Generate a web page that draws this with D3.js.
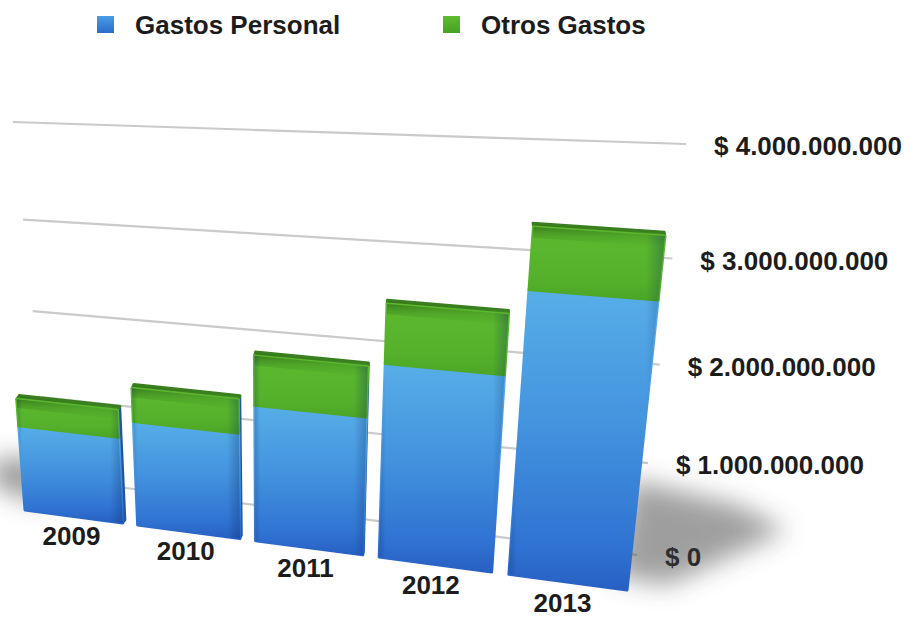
<!DOCTYPE html>
<html>
<head>
<meta charset="utf-8">
<script src="https://cdn.jsdelivr.net/npm/d3@7"></script>
<style>
  html, body { margin: 0; padding: 0; background: #ffffff; }
  svg { display: block; }
  text { font-family: "Liberation Sans", Arial, Helvetica, sans-serif; font-weight: bold; fill: #1c1c1c; }
</style>
</head>
<body>
<svg id="chart" width="910" height="617"></svg>
<script>
// ---- data ----
const years = ["2009", "2010", "2011", "2012", "2013"];
const gastosPersonal = [950e6, 1140e6, 1450e6, 2000e6, 2810e6];
const otrosGastos = [290e6, 350e6, 500e6, 570e6, 560e6];
const seriesNames = ["Gastos Personal", "Otros Gastos"];
const tickValues = [0, 1e9, 2e9, 3e9, 4e9];

// Spanish-style currency formatting: "$ 4.000.000.000"
const esLocale = d3.formatLocale({ decimal: ",", thousands: ".", grouping: [3], currency: ["$ ", ""] });
const fmt = esLocale.format("$,.0f");

// Maps the unit square (u, v) onto a screen quadrilateral (perspective plane).
// Corner order: (0,0), (1,0), (1,1), (0,1).
function quadMap(p0, p1, p2, p3) {
  const [x0, y0] = p0, [x1, y1] = p1, [x2, y2] = p2, [x3, y3] = p3;
  const dx1 = x1 - x2, dy1 = y1 - y2, dx2 = x3 - x2, dy2 = y3 - y2;
  const dx3 = x0 - x1 + x2 - x3, dy3 = y0 - y1 + y2 - y3;
  const den = dx1 * dy2 - dx2 * dy1;
  const g = (dx3 * dy2 - dx2 * dy3) / den;
  const h = (dx1 * dy3 - dx3 * dy1) / den;
  const a = x1 - x0 + g * x1, b = x3 - x0 + h * x3, c = x0;
  const d = y1 - y0 + g * y1, e = y3 - y0 + h * y3, f = y0;
  return (u, v) => {
    const w = g * u + h * v + 1;
    return [(a * u + b * v + c) / w, (d * u + e * v + f) / w];
  };
}

const svg = d3.select("#chart");
const defs = svg.append("defs");

// scales into the unit square
const x = d3.scaleBand().domain(years).range([0, 1]).paddingInner(0.13).paddingOuter(0);
const y = d3.scaleLinear().domain([0, 4e9]).range([0, 1]);

// back wall plane (gridlines) and the plane of the bar fronts
const wall = quadMap([50, 478], [637, 555], [686, 144], [13, 122]);
const front = quadMap([25, 510], [627, 590], [673, 161], [-4, 124]);

// ---- gradients ----
function grad(id, dir, stops) {
  const gr = defs.append("linearGradient").attr("id", id)
    .attr("x1", 0).attr("y1", 0).attr("x2", dir === "h" ? 1 : 0).attr("y2", dir === "h" ? 0 : 1);
  stops.forEach(([o, c, op]) => gr.append("stop").attr("offset", o).attr("stop-color", c).attr("stop-opacity", op == null ? 1 : op));
}
grad("gBlue", "v", [[0, "#57aee7"], [0.45, "#4393de"], [0.85, "#3073d2"], [1, "#2760c2"]]);
grad("gGreen", "v", [[0, "#5cb92e"], [0.7, "#55b12b"], [1, "#4ca626"]]);
grad("gTop", "v", [[0, "#356f1a"], [1, "#428f25"]]);
grad("gRim", "v", [[0, "#2f6a17", 0.7], [0.5, "#3b8420", 0.3], [1, "#3b8420", 0]]);
grad("gEdge", "h", [[0, "#0a2a60", 0.25], [0.05, "#0a2a60", 0.0], [0.88, "#0a2a60", 0.0], [1, "#0a2a60", 0.32]]);
grad("gLegBlue", "v", [[0, "#4a9de2"], [1, "#2c6bcc"]]);
grad("gLegGreen", "v", [[0, "#5fbc30"], [1, "#45a024"]]);

const blur = defs.append("filter").attr("id", "soft").attr("x", "-50%").attr("y", "-50%").attr("width", "200%").attr("height", "200%");
blur.append("feGaussianBlur").attr("stdDeviation", 13);
const blurLine = defs.append("filter").attr("id", "softLine");
blurLine.append("feGaussianBlur").attr("stdDeviation", 0.6);

const line = d3.line();

// ---- gridlines on the back wall ----
svg.append("g").selectAll("path").data(tickValues).join("path")
  .attr("d", t => line([wall(0, y(t)), wall(1, y(t))]))
  .attr("stroke", "#cacaca").attr("stroke-width", 2.2).attr("fill", "none")
  .attr("filter", "url(#softLine)");

// right-hand value labels
svg.append("g").selectAll("text").data(tickValues).join("text")
  .attr("x", t => wall(1, y(t))[0] + 28)
  .attr("y", t => wall(1, y(t))[1] + 2)
  .attr("dy", "0.35em")
  .attr("font-size", 26)
  .text(t => fmt(t));

// ---- floor shadows at both ends of the bar row ----
const firstU = x(years[0]);
const lastU = x(years[years.length - 1]) + x.bandwidth();
const bl = front(firstU, 0), br = front(lastU, 0);
svg.append("path")
  .attr("d", line([[br[0] - 15, br[1] - 15], [br[0] + 5, br[1] - 110], [br[0] + 110, br[1] - 85], [br[0] + 160, br[1] - 60], [br[0] + 40, br[1] - 5]]) + "Z")
  .attr("fill", "#404040").attr("opacity", 0.5).attr("filter", "url(#soft)");
svg.append("path")
  .attr("d", line([[bl[0] + 15, bl[1] - 5], [bl[0] - 40, bl[1] - 30], [bl[0] - 25, bl[1] - 52], [bl[0] + 15, bl[1] - 50]]) + "Z")
  .attr("fill", "#404040").attr("opacity", 0.55).attr("filter", "url(#soft)");

// ---- bars ----
const bars = years.map((yr, i) => ({
  year: yr,
  u0: x(yr),
  u1: x(yr) + x.bandwidth(),
  personal: gastosPersonal[i],
  otros: otrosGastos[i]
}));

const quad = (u0, u1, v0, v1) => [front(u0, v0), front(u1, v0), front(u1, v1), front(u0, v1)];

svg.append("g").selectAll("g").data(bars).join("g").each(function (b) {
  const g = d3.select(this);
  const vb = y(b.personal), vt = y(b.personal + b.otros);
  const uc = (b.u0 + b.u1) / 2;
  const dx = 3 - 4 * uc; // horizontal shift of the far edges
  const tl = front(b.u0, vt), tr = front(b.u1, vt), brr = front(b.u1, 0);

  // right side face
  if (dx > 0.5) {
    g.append("path")
      .attr("d", line([tr, [tr[0] + dx, tr[1] - 3], [brr[0] + dx, brr[1] - 3], brr]) + "Z")
      .attr("fill", "#24549f").attr("stroke", "#24549f").attr("stroke-width", 2).attr("stroke-linejoin", "round");
  }
  // top face
  g.append("path")
    .attr("d", line([tl, tr, [tr[0] + dx, tr[1] - 4], [tl[0] + dx, tl[1] - 4]]) + "Z")
    .attr("fill", "url(#gTop)").attr("stroke", "#3a7f1f").attr("stroke-width", 2.5).attr("stroke-linejoin", "round");
  // front faces: personal (blue) then others (green)
  g.append("path")
    .attr("d", line(quad(b.u0, b.u1, 0, vb)) + "Z")
    .attr("fill", "url(#gBlue)").attr("stroke", "url(#gBlue)").attr("stroke-width", 3).attr("stroke-linejoin", "round");
  g.append("path")
    .attr("d", line(quad(b.u0, b.u1, vb, vt)) + "Z")
    .attr("fill", "url(#gGreen)").attr("stroke", "url(#gGreen)").attr("stroke-width", 3).attr("stroke-linejoin", "round");
  // darker rounded rim along the top of the front face
  g.append("path")
    .attr("d", line(quad(b.u0, b.u1, vt - 0.024, vt)) + "Z")
    .attr("fill", "url(#gRim)");
  // rounded-edge shading at the sides
  g.append("path")
    .attr("d", line(quad(b.u0, b.u1, 0, vt)) + "Z")
    .attr("fill", "url(#gEdge)");
});

// year labels on the floor in front of each bar
svg.append("g").selectAll("text").data(bars).join("text")
  .attr("x", b => front((b.u0 + b.u1) / 2, -0.055)[0] - 3)
  .attr("y", b => front((b.u0 + b.u1) / 2, -0.055)[1])
  .attr("dy", "0.35em")
  .attr("text-anchor", "middle")
  .attr("font-size", 26)
  .text(b => b.year);

// ---- legend ----
const legendItems = seriesNames.map((name, i) => ({ name, color: i === 0 ? "url(#gLegBlue)" : "url(#gLegGreen)", x: i === 0 ? 97 : 443 }));
const lg = svg.append("g").selectAll("g").data(legendItems).join("g")
  .attr("transform", d => `translate(${d.x},16)`);
lg.append("rect").attr("width", 17).attr("height", 17).attr("fill", d => d.color);
lg.append("text").attr("x", 38).attr("y", 18).attr("font-size", 26).text(d => d.name);
</script>
</body>
</html>
